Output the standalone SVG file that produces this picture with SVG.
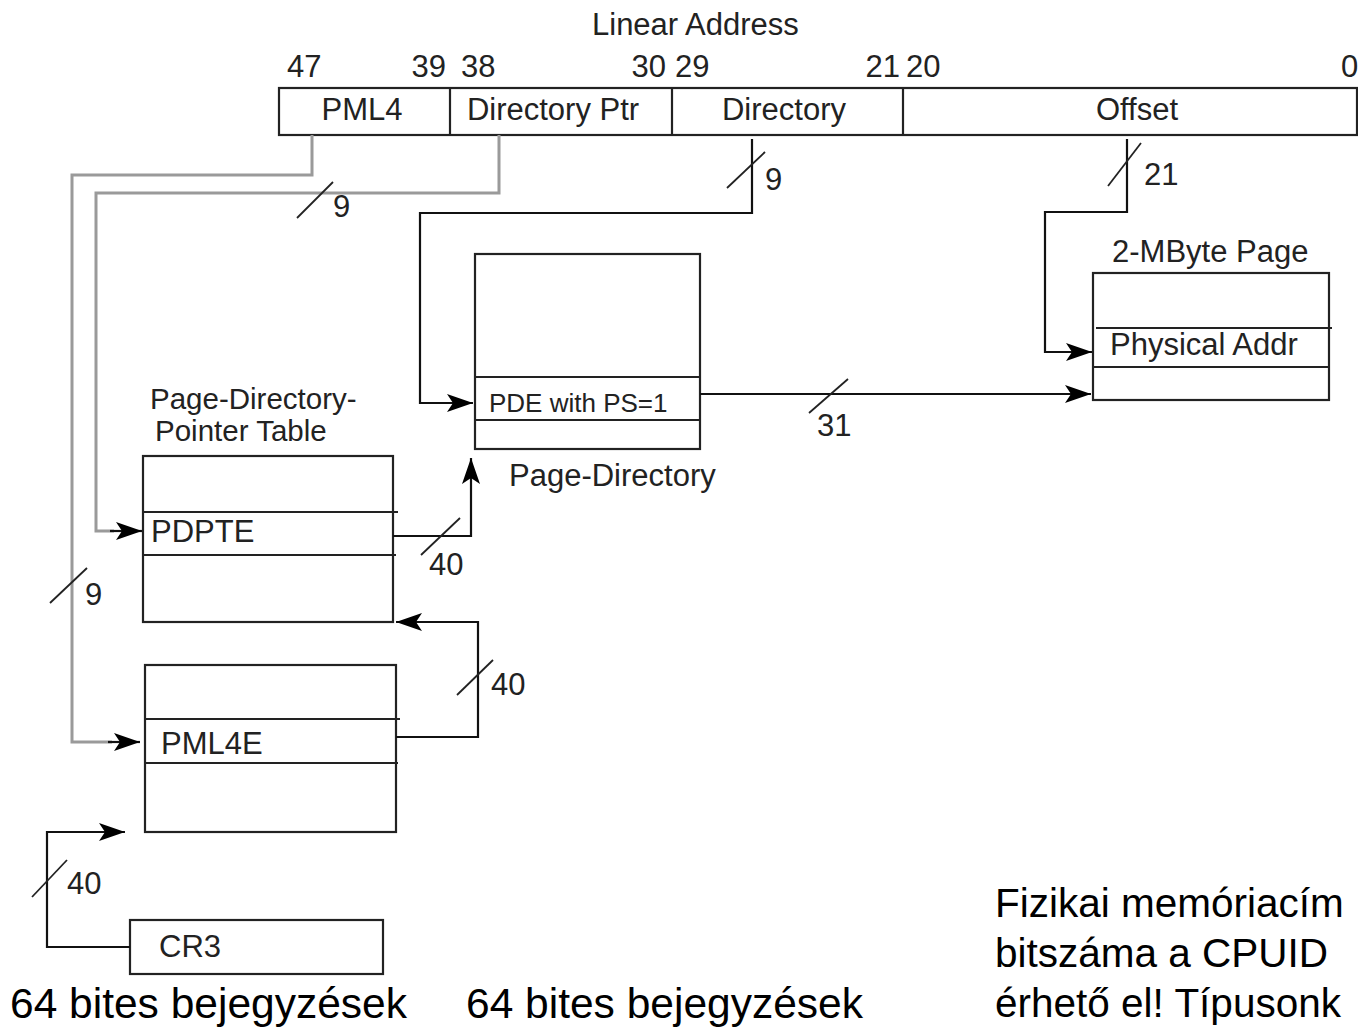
<svg xmlns="http://www.w3.org/2000/svg" width="1358" height="1030" viewBox="0 0 1358 1030">
<style>
  .t { font-family: "Liberation Sans", Arial, sans-serif; fill: #222; }
  .lbl { font-size: 31px; }
  .num { font-size: 31px; }
  .big { font-size: 42.5px; fill: #000; }
  .note { font-size: 40.5px; fill: #000; }
  .box { fill: #fff; stroke: #222; stroke-width: 2.2; }
  .sep { stroke: #222; stroke-width: 2.2; fill: none; }
  .wire { fill: none; stroke: #111; stroke-width: 2.2; }
  .gwire { fill: none; stroke: #9a9a9a; stroke-width: 3; }
  .slash { stroke: #222; stroke-width: 1.8; }
</style>
<defs>
  <marker id="ah" markerUnits="userSpaceOnUse" markerWidth="30" markerHeight="20" refX="26" refY="9" orient="auto">
    <path d="M0,0 L26,9 L0,18 L6,9 z" fill="#000"/>
  </marker>
</defs>
<rect width="1358" height="1030" fill="#fff"/>

<g id="linear-address">
  <text class="t lbl" x="592" y="35">Linear Address</text>
  <rect class="box" x="279" y="88" width="1078" height="47"/>
  <line class="sep" x1="450" y1="88" x2="450" y2="135"/>
  <line class="sep" x1="672" y1="88" x2="672" y2="135"/>
  <line class="sep" x1="903" y1="88" x2="903" y2="135"/>
  <text class="t lbl" x="362" y="120" text-anchor="middle">PML4</text>
  <text class="t lbl" x="553" y="120" text-anchor="middle">Directory Ptr</text>
  <text class="t lbl" x="784" y="120" text-anchor="middle">Directory</text>
  <text class="t lbl" x="1137" y="120" text-anchor="middle">Offset</text>
  <text class="t num" x="287" y="77">47</text>
  <text class="t num" x="446" y="77" text-anchor="end">39</text>
  <text class="t num" x="461" y="77">38</text>
  <text class="t num" x="666" y="77" text-anchor="end">30</text>
  <text class="t num" x="675" y="77">29</text>
  <text class="t num" x="900" y="77" text-anchor="end">21</text>
  <text class="t num" x="906" y="77">20</text>
  <text class="t num" x="1341" y="77">0</text>
</g>

<g id="page-2mb">
  <text class="t lbl" x="1112" y="262">2-MByte Page</text>
  <rect class="box" x="1093" y="273" width="236" height="127"/>
  <line class="sep" x1="1096" y1="328" x2="1332" y2="328"/>
  <line class="sep" x1="1093" y1="367" x2="1329" y2="367"/>
  <text class="t lbl" x="1110" y="355">Physical Addr</text>
</g>

<g id="page-directory">
  <rect class="box" x="475" y="254" width="225" height="195"/>
  <line class="sep" x1="475" y1="377" x2="700" y2="377"/>
  <line class="sep" x1="475" y1="420" x2="700" y2="420"/>
  <text class="t" x="489" y="412" font-size="26">PDE with PS=1</text>
  <text class="t lbl" x="509" y="486">Page-Directory</text>
</g>

<g id="pdpt">
  <text class="t" x="150" y="409" font-size="29.5">Page-Directory-</text>
  <text class="t" x="155" y="441" font-size="29.5">Pointer Table</text>
  <rect class="box" x="143" y="456" width="250" height="166"/>
  <line class="sep" x1="143" y1="512" x2="398" y2="512"/>
  <line class="sep" x1="143" y1="555" x2="396" y2="555"/>
  <text class="t lbl" x="151" y="542">PDPTE</text>
</g>

<g id="pml4-table">
  <rect class="box" x="145" y="665" width="251" height="167"/>
  <line class="sep" x1="145" y1="719" x2="400" y2="719"/>
  <line class="sep" x1="145" y1="763" x2="398" y2="763"/>
  <text class="t lbl" x="161" y="754">PML4E</text>
</g>

<g id="cr3">
  <rect class="box" x="130" y="920" width="253" height="54"/>
  <text class="t lbl" x="159" y="957">CR3</text>
</g>

<g id="connectors">
  <path class="gwire" d="M312,135 V175 H72 V742 H112"/>
  <path class="wire" d="M108,742 H140" marker-end="url(#ah)"/>
  <path class="gwire" d="M499,135 V193 H96 V531 H114"/>
  <path class="wire" d="M110,531 H142" marker-end="url(#ah)"/>
  <path class="wire" d="M752,139 V213 H420 V403 H473" marker-end="url(#ah)"/>
  <path class="wire" d="M1127,139 V212 H1045 V352 H1092" marker-end="url(#ah)"/>
  <path class="wire" d="M700,394 H1091" marker-end="url(#ah)"/>
  <path class="wire" d="M393,536 H471 V458" marker-end="url(#ah)"/>
  <path class="wire" d="M396,737 H478 V622 H396" marker-end="url(#ah)"/>
  <path class="wire" d="M130,947 H47 V832 H125" marker-end="url(#ah)"/>

  <line class="slash" x1="297" y1="218" x2="333" y2="182"/>
  <line class="slash" x1="727" y1="188" x2="765" y2="152"/>
  <line class="slash" x1="1108" y1="186" x2="1141" y2="143"/>
  <line class="slash" x1="50" y1="603" x2="87" y2="568"/>
  <line class="slash" x1="809" y1="413" x2="848" y2="379"/>
  <line class="slash" x1="421" y1="555" x2="460" y2="518"/>
  <line class="slash" x1="457" y1="695" x2="493" y2="660"/>
  <line class="slash" x1="32" y1="897" x2="67" y2="860"/>

  <text class="t num" x="333" y="217">9</text>
  <text class="t num" x="765" y="190">9</text>
  <text class="t num" x="1144" y="185">21</text>
  <text class="t num" x="85" y="605">9</text>
  <text class="t num" x="817" y="436">31</text>
  <text class="t num" x="429" y="575">40</text>
  <text class="t num" x="491" y="695">40</text>
  <text class="t num" x="67" y="894">40</text>
</g>

<g id="notes">
  <text class="t big" x="10" y="1018">64 bites bejegyzések</text>
  <text class="t big" x="466" y="1018">64 bites bejegyzések</text>
  <text class="t note" x="995" y="917">Fizikai memóriacím</text>
  <text class="t note" x="995" y="967">bitszáma a CPUID</text>
  <text class="t note" x="995" y="1017">érhető el! Típusonk</text>
</g>
</svg>
